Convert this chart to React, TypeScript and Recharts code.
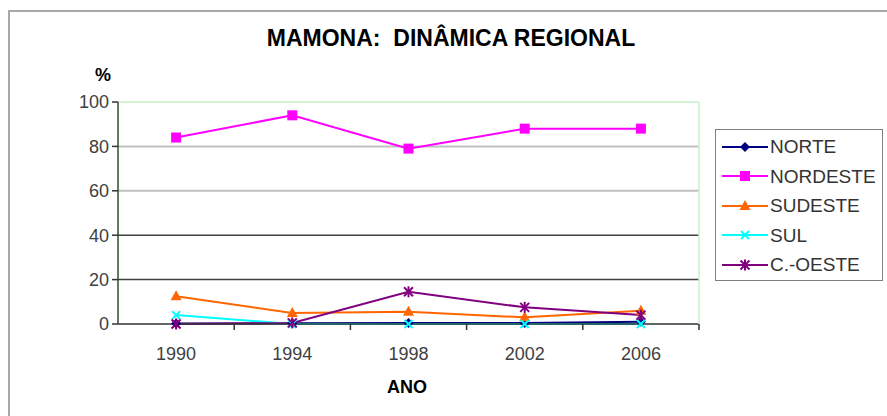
import React from 'react';
import {
  LineChart,
  Line,
  XAxis,
  YAxis,
  ReferenceLine,
} from 'recharts';

const years = ['1990', '1994', '1998', '2002', '2006'];
const norte = [0.2, 0.3, 0.4, 0.5, 1];
const nordeste = [84, 94, 79, 88, 88];
const sudeste = [12.5, 5, 5.5, 3, 6];
const sul = [4, 0, 0, 0, 0];
const centroOeste = [0, 0.5, 14.5, 7.5, 4];
const yTicks = [0, 20, 40, 60, 80, 100];

const series = [
  { key: 'NORTE', values: norte, color: '#000080', marker: 'diamond' },
  { key: 'NORDESTE', values: nordeste, color: '#ff00ff', marker: 'square' },
  { key: 'SUDESTE', values: sudeste, color: '#ff6600', marker: 'triangle' },
  { key: 'SUL', values: sul, color: '#00ffff', marker: 'x' },
  { key: 'C.-OESTE', values: centroOeste, color: '#800080', marker: 'star' },
];

const data = years.map((ano, i) => {
  const row: Record<string, any> = { ano };
  series.forEach((s) => (row[s.key] = s.values[i]));
  return row;
});

const FONT = '"Liberation Sans", Arial, sans-serif';

// chart geometry
const W = 887;
const H = 416;
const MARGIN = { top: 102, right: 187, left: 58, bottom: 62 };
const Y_W = 60;
const R_W = 1;
const PLOT_W = W - MARGIN.left - MARGIN.right - Y_W - R_W;
const STEP = PLOT_W / years.length;
const TICK_MARGIN = 23;

const Marker = ({ cx, cy, color, kind }: any) => {
  if (cx == null || cy == null) return null;
  switch (kind) {
    case 'diamond':
      return <polygon points={`${cx},${cy - 5} ${cx + 5},${cy} ${cx},${cy + 5} ${cx - 5},${cy}`} fill={color} />;
    case 'square':
      return <rect x={cx - 5} y={cy - 5} width={10} height={10} fill={color} />;
    case 'triangle':
      return <polygon points={`${cx},${cy - 6} ${cx + 5.5},${cy + 4} ${cx - 5.5},${cy + 4}`} fill={color} />;
    case 'x':
      return (
        <g stroke={color} strokeWidth={2}>
          <line x1={cx - 4} y1={cy - 4} x2={cx + 4} y2={cy + 4} />
          <line x1={cx - 4} y1={cy + 4} x2={cx + 4} y2={cy - 4} />
        </g>
      );
    case 'star':
      return (
        <g stroke={color} strokeWidth={2}>
          <line x1={cx - 4.5} y1={cy - 4.5} x2={cx + 4.5} y2={cy + 4.5} />
          <line x1={cx - 4.5} y1={cy + 4.5} x2={cx + 4.5} y2={cy - 4.5} />
          <line x1={cx} y1={cy - 5.5} x2={cx} y2={cy + 5.5} />
        </g>
      );
    default:
      return null;
  }
};

// year label plus a tick mark on the right boundary of its category
const YearTick = (props: any) => {
  const { x, y, payload } = props;
  const bx = x + STEP / 2;
  const top = y - TICK_MARGIN;
  return (
    <g>
      <rect x={bx - 0.75} y={top} width={1.5} height={6} fill="#333" />
      <text x={x} y={y} dy="0.71em" textAnchor="middle" fill="#404040" fontSize={18}>
        {payload.value}
      </text>
    </g>
  );
};

const LegendBox = () => (
  <div
    style={{
      position: 'absolute',
      left: 715,
      top: 129,
      width: 168,
      border: '1.5px solid #808080',
      background: '#fff',
      padding: '2px 0 0 6px',
      boxSizing: 'border-box',
    }}
  >
    {series.map((s) => (
      <div key={s.key} style={{ display: 'flex', alignItems: 'center', height: 29.5 }}>
        <svg width={48} height={14} style={{ flex: 'none' }}>
          <line x1={0} y1={7} x2={46} y2={7} stroke={s.color} strokeWidth={2} />
          <Marker cx={23} cy={7} color={s.color} kind={s.marker} />
        </svg>
        <span style={{ fontSize: 19, color: '#333', lineHeight: '19px' }}>{s.key}</span>
      </div>
    ))}
  </div>
);

export default function App() {
  return (
    <div
      style={{
        position: 'absolute',
        left: 0,
        top: 0,
        width: W,
        height: H,
        overflow: 'hidden',
        background: '#fff',
        fontFamily: FONT,
      }}
    >
      <div
        style={{
          position: 'absolute',
          left: 8,
          top: 10,
          width: 900,
          height: 420,
          borderLeft: '2px solid #a8a8a8',
          borderTop: '2px solid #a8a8a8',
        }}
      />
      <div
        style={{
          position: 'absolute',
          left: 0,
          top: 27,
          width: 902,
          textAlign: 'center',
          fontSize: 23,
          lineHeight: '23px',
          fontWeight: 'bold',
          color: '#000',
        }}
      >
        MAMONA:&nbsp; DINÂMICA REGIONAL
      </div>
      <div style={{ position: 'absolute', left: 95, top: 66, fontSize: 18, lineHeight: '18px', fontWeight: 'bold' }}>
        %
      </div>
      <div style={{ position: 'absolute', left: 387, top: 378, fontSize: 18, lineHeight: '18px', fontWeight: 'bold' }}>
        ANO
      </div>
      <div style={{ position: 'absolute', left: 0, top: 0 }}>
        <LineChart width={W} height={H} data={data} margin={MARGIN} style={{ fontFamily: FONT }}>
          <XAxis
            xAxisId="cat"
            dataKey="ano"
            padding={{ left: STEP / 2, right: STEP / 2 }}
            tickLine={false}
            tickSize={0}
            tickMargin={TICK_MARGIN}
            axisLine={{ stroke: '#333', strokeWidth: 1.5 }}
            tick={YearTick}
            interval={0}
            height={30}
          />
          <YAxis
            yAxisId="left"
            domain={[0, 100]}
            ticks={yTicks}
            width={Y_W}
            tickMargin={3}
            axisLine={{ stroke: '#2f4f2f', strokeWidth: 1.5 }}
            tickLine={{ stroke: '#333', strokeWidth: 1.5 }}
            tick={{ fill: '#404040', fontSize: 18 }}
          />
          <YAxis
            yAxisId="right"
            orientation="right"
            domain={[0, 100]}
            width={R_W}
            tick={false}
            tickLine={false}
            axisLine={{ stroke: '#c8f0c8', strokeWidth: 1.5 }}
          />
          <ReferenceLine xAxisId="cat" yAxisId="left" y={100} stroke="#c8f0c8" strokeWidth={1.5} />
          <ReferenceLine xAxisId="cat" yAxisId="left" y={80} stroke="#c0c0c0" strokeWidth={2} />
          <ReferenceLine xAxisId="cat" yAxisId="left" y={60} stroke="#c0c0c0" strokeWidth={2} />
          <ReferenceLine xAxisId="cat" yAxisId="left" y={40} stroke="#404040" strokeWidth={1.5} />
          <ReferenceLine xAxisId="cat" yAxisId="left" y={20} stroke="#404040" strokeWidth={1.5} />
          {series.map((s) => (
            <Line
              key={s.key}
              xAxisId="cat"
              yAxisId="left"
              type="linear"
              dataKey={s.key}
              stroke={s.color}
              strokeWidth={2}
              isAnimationActive={false}
              dot={(p: any) => (
                <Marker key={`${s.key}-${p.index}`} cx={p.cx} cy={p.cy} color={s.color} kind={s.marker} />
              )}
              activeDot={false}
            />
          ))}
        </LineChart>
      </div>
      <LegendBox />
    </div>
  );
}
